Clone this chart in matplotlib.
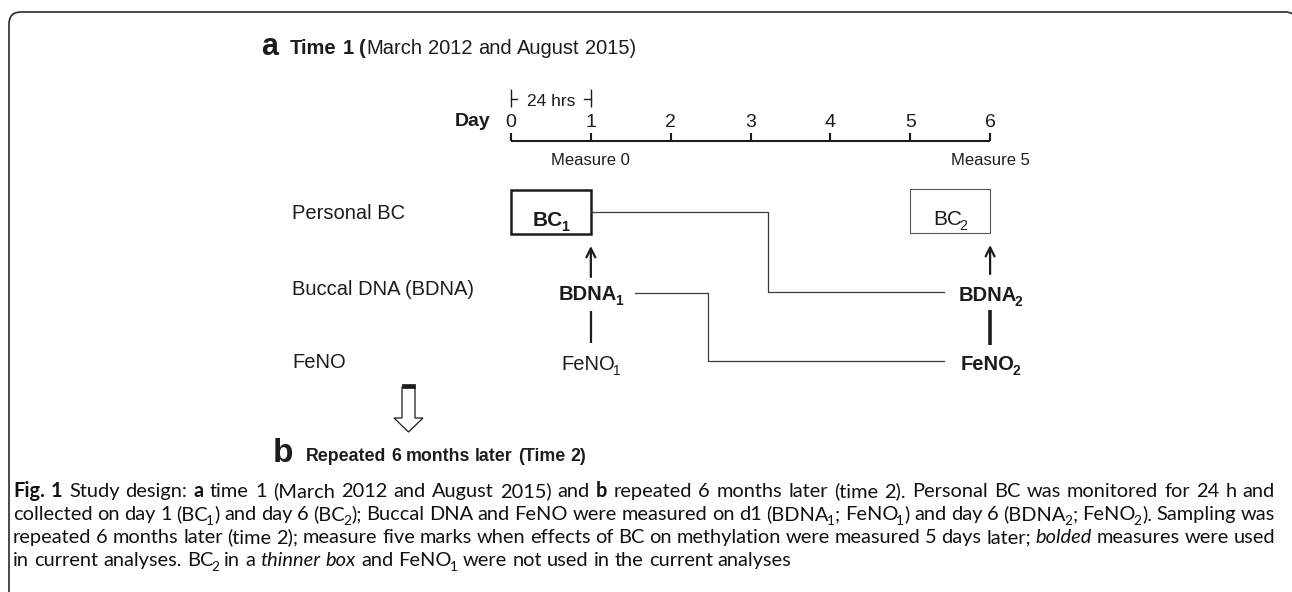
import re
import matplotlib
matplotlib.use('Agg')
import matplotlib.pyplot as plt
from matplotlib.patches import Rectangle, Polygon, PathPatch
from matplotlib.path import Path

# ---------------- content ----------------
days = [0, 1, 2, 3, 4, 5, 6]
day_labels = ['0', '1', '2', '3', '4', '5', '6']
measure_days = [1, 6]
measure_labels = ['Measure 0', 'Measure 5']
monitor_span = (0, 1)
monitor_label = '24 hrs'
row_labels = ['Personal BC', 'Buccal DNA (BDNA)', 'FeNO']
bc_windows = [(0, 1), (5, 6)]                      # BC1, BC2 collection
bc_labels = ['{b:BC}{S:1}', 'BC{s:2}']
time1_labels = ['{b:BDNA}{S:1}', 'FeNO{s:1}']       # day 1
time2_labels = ['{b:BDNA}{S:2}', '{b:FeNO}{S:2}']   # day 6
title_a = '{b:Time 1 (}March 2012 and August 2015)'
title_b = '{b:Repeated 6 months later (Time 2)}'
caption = [
    '{b:Fig. 1} Study design: {b:a} time 1 (March 2012 and August 2015) and {b:b} repeated 6 months later '
    '(time 2). Personal BC was monitored for 24 h and',
    'collected on day 1 (BC{s:1}) and day 6 (BC{s:2}); Buccal DNA and FeNO were measured on d1 '
    '(BDNA{s:1}; FeNO{s:1}) and day 6 (BDNA{s:2}; FeNO{s:2}). Sampling was',
    'repeated 6 months later (time 2); measure five marks when effects of BC on methylation were '
    'measured 5 days later; {i:bolded} measures were used',
    'in current analyses. BC{s:2} in a {i:thinner box} and FeNO{s:1} were not used in the current analyses',
]

# ---------------- layout ----------------
W, H = 1292, 592
X0, STEP = 511, 79.85          # pixel of day 0, pixels per day
AXIS_Y, TICK_LEN, TICK_Y = 141, 8, 127
ROW_Y = [212, 293, 363]
ROW_BASE = [219, 295, 368]
LABEL_X = 292
INK = '#1c1c1c'
LINE = '#3a3a3a'
DIAG = ['Liberation Sans', 'DejaVu Sans']
CAP = ['Lato', 'DejaVu Sans']

fig = plt.figure(figsize=(W / 100, H / 100), dpi=100)
ax = fig.add_axes([0, 0, 1, 1])      # x in days, y in pixel rows
ax.set_xlim(-X0 / STEP, (W - X0) / STEP)
ax.set_ylim(H, 0)
ax.axis('off')
px = fig.add_axes([0, 0, 1, 1])      # plain pixel overlay
px.set_xlim(0, W)
px.set_ylim(H, 0)
px.axis('off')
renderer = fig.canvas.get_renderer()


def dx(d):
    return ax.transData.transform((d, 0))[0]


def parse(markup):
    segs, pos = [], 0
    for m in re.finditer(r'\{([bisS]):([^}]*)\}', markup):
        if m.start() > pos:
            segs.append((markup[pos:m.start()], 'n'))
        segs.append((m.group(2), m.group(1)))
        pos = m.end()
    if pos < len(markup):
        segs.append((markup[pos:], 'n'))
    words = [[]]
    for text, kind in segs:
        for i, p in enumerate(text.split(' ')):
            if i > 0:
                words.append([])
            if p:
                words[-1].append((p, kind))
    return [w for w in words if w]


def piece(x, y, text, size, kind, family, color):
    sub = kind in 'sS'
    fs = size * 0.68 if sub else size
    yy = y + size * 0.32 if sub else y
    return px.text(x, yy, text, fontsize=fs, family=family, color=color, va='baseline', ha='left',
                   fontweight='bold' if kind in 'bS' else 'normal',
                   fontstyle='italic' if kind == 'i' else 'normal')


def wid(t):
    return t.get_window_extent(renderer).width


def line(x, y, markup, size, family=DIAG, ha='left', fill=None, color=INK):
    words = parse(markup)
    groups, widths = [], []
    for w in words:
        cur, group = 0, []
        for text, kind in w:
            sub = kind in 'sS'
            if sub:
                cur -= 0.17 * size      # pull subscripts up against the letter
            t = piece(0, y, text, size, kind, family, color)
            group.append((t, cur))
            cur += wid(t) + 0.03 * size
        groups.append(group)
        widths.append(cur - 0.03 * size)
    a = px.text(0, 0, 'a a', fontsize=size, family=family)
    b = px.text(0, 0, 'aa', fontsize=size, family=family)
    sp = wid(a) - wid(b)
    a.remove(); b.remove()
    gap = sp if fill is None or len(words) < 2 else (fill - sum(widths)) / (len(words) - 1)
    total = sum(widths) + gap * (len(words) - 1)
    cur = x - total / 2 if ha == 'center' else x
    for group, w in zip(groups, widths):
        for t, off in group:
            t.set_x(cur + off)
        cur += w + gap
    return total


# frame with rounded top corners (right side runs off the image)
r = 12
L, T, R = 9, 12, 1297
frame = Path([(L, H), (L, T + r), (L, T), (L + r, T), (R - r, T), (R, T), (R, T + r), (R, H)],
             [Path.MOVETO, Path.LINETO, Path.CURVE3, Path.CURVE3, Path.LINETO, Path.CURVE3, Path.CURVE3, Path.LINETO])
px.add_patch(PathPatch(frame, fill=False, edgecolor='#2a2a2a', lw=1.2))

# titles
px.text(261, 55, 'a', fontsize=22, fontweight='bold', family=DIAG, color=INK, va='baseline')
line(290, 54, title_a, 14.5)
px.text(273, 462, 'b', fontsize=24, fontweight='bold', family=DIAG, color=INK, va='baseline')
line(306, 461, title_b, 12.8)

# day axis
ax.plot([days[0], days[-1]], [AXIS_Y, AXIS_Y], color=INK, lw=1.5, solid_capstyle='butt')
ax.vlines(days, AXIS_Y - TICK_LEN, AXIS_Y, color=INK, lw=1.5)
for d, lab in zip(days, day_labels):
    ax.text(d, TICK_Y, lab, ha='center', va='baseline', fontsize=14, family=DIAG, color=INK)
ax.text(days[0] - 0.26, TICK_Y - 1, 'Day', ha='right', va='baseline', fontsize=14, fontweight='bold',
        family=DIAG, color=INK)

# 24 h bracket
ax.vlines(monitor_span, 89, 107, color=INK, lw=1.0)
ax.plot([monitor_span[0], monitor_span[0] + 0.08], [99, 99], color=INK, lw=1.0)
ax.plot([monitor_span[1] - 0.08, monitor_span[1]], [99, 99], color=INK, lw=1.0)
ax.text(sum(monitor_span) / 2, 106, monitor_label, ha='center', va='baseline', fontsize=12.5,
        family=DIAG, color=INK)

for d, lab in zip(measure_days, measure_labels):
    ax.text(d, 165, lab, ha='center', va='baseline', fontsize=12, family=DIAG, color=INK)

# row labels
for lab, yb in zip(row_labels, ROW_BASE):
    px.text(LABEL_X, yb, lab, fontsize=14.5, family=DIAG, color=INK, va='baseline')

# BC boxes
box_lw = [1.8, 0.8]
box_col = [INK, '#555555']
box_top = [190, 189]
for (d0, d1), lab, lw, col, top in zip(bc_windows, bc_labels, box_lw, box_col, box_top):
    ax.add_patch(Rectangle((d0, top), d1 - d0, 44, fill=False, edgecolor=col, lw=lw))
    line(dx((d0 + d1) / 2), top + 36, lab, 15, ha='center')

# time-point measures
for lab, yb in zip(time1_labels, [300, 370]):
    line(dx(measure_days[0]), yb, lab, 14.5, ha='center')
for lab, yb in zip(time2_labels, [301, 370]):
    line(dx(measure_days[1]), yb, lab, 14.5, ha='center')

# arrows up to the BC boxes and links down to FeNO
for d, y0, y1 in [(measure_days[0], 277, 246), (measure_days[1], 274, 245)]:
    ax.annotate('', xy=(d, y1), xytext=(d, y0),
                arrowprops=dict(arrowstyle='->', lw=1.6, color=INK, shrinkA=0, shrinkB=0,
                                mutation_scale=16))
ax.vlines(measure_days[0], 311, 343, color=INK, lw=1.6)
ax.vlines(measure_days[1], 310, 345, color=INK, lw=2.6)

# cross links (elbow lines)
end_day = 5.42
ax.plot([1.0, 3.22, 3.22, end_day], [ROW_Y[0], ROW_Y[0], 292, 292], color=LINE, lw=0.9)
ax.plot([1.55, 2.47, 2.47, end_day], [293, 293, 361, 361], color=LINE, lw=0.9)

# hollow arrow to part b
px.add_patch(Polygon([(402, 387), (415, 387), (415, 418), (423, 418), (408.5, 432), (394, 418), (402, 418)],
                     closed=True, facecolor='white', edgecolor=INK, lw=0.9))
px.add_patch(Rectangle((402, 384), 13, 3.5, facecolor=INK, edgecolor=INK, lw=0.5))

# caption, justified
cap_y = [497, 520, 543, 566]
for i, (txt, yb) in enumerate(zip(caption, cap_y)):
    line(13, yb, txt, 14.4, family=CAP, fill=None if i == len(caption) - 1 else 1262, color='#111111')

fig.savefig('out.png', dpi=100, facecolor='white')
